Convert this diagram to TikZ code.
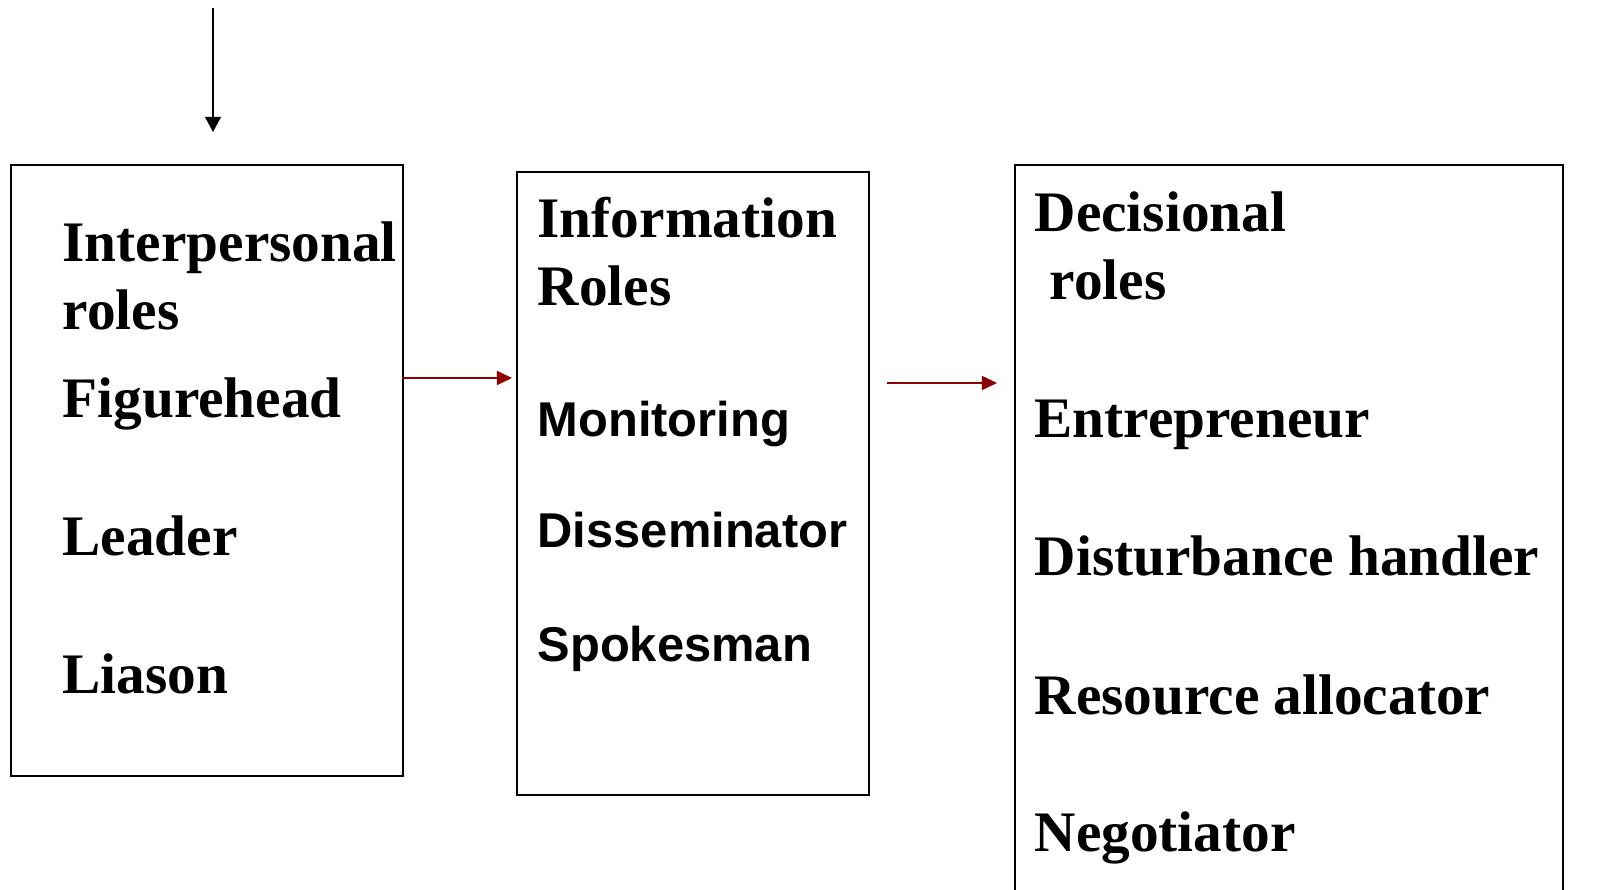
\documentclass[tikz,border=0pt]{standalone}
\usepackage{fontspec}
\setmainfont{Liberation Serif}
\newfontfamily\arialfont{Liberation Sans}
\usetikzlibrary{arrows.meta}

\definecolor{flowred}{RGB}{139,0,0}

\begin{document}
\begin{tikzpicture}[
	rolebox/.style={draw, line width=0.6pt, anchor=north west, inner sep=0pt},
	roletext/.style={anchor=base west, inner sep=0pt, font=\fontsize{16.3}{19}\selectfont\bfseries},
	infotext/.style={anchor=base west, inner sep=0pt, font=\fontsize{13.9}{17}\selectfont\arialfont\bfseries},
	roleflow/.style={draw=flowred, line width=0.45pt, -{Triangle[length=4.3pt, width=4pt]}, flowred}
]

\def\H{8.89}

% page
\useasboundingbox (0,0) rectangle (16,\H);
\clip (0,0) rectangle (16,\H);

% boxes
\node [rolebox, minimum width=3.92cm, minimum height=6.11cm] (inter) at (0.10,\H-1.64) {};
\node [rolebox, minimum width=3.52cm, minimum height=6.23cm] (info) at (5.16,\H-1.71) {};
\node [rolebox, minimum width=5.48cm, minimum height=7.6cm] (deci) at (10.14,\H-1.64) {};

% interpersonal roles
\node [roletext] (intertitle) at (0.62,\H-2.62) {Interpersonal};
\node [roletext] (interroles) at (0.62,\H-3.30) {roles};
\node [roletext] (figure) at (0.62,\H-4.18) {Figurehead};
\node [roletext] (leader) at (0.62,\H-5.55) {Leader};
\node [roletext] (liason) at (0.62,\H-6.93) {Liason};

% information roles
\node [roletext] (infotitle) at (5.37,\H-2.38) {Information};
\node [roletext] (inforoles) at (5.37,\H-3.06) {Roles};
\node [infotext] (monitor) at (5.37,\H-4.37) {Monitoring};
\node [infotext] (dissem) at (5.37,\H-5.48) {Disseminator};
\node [infotext] (spokes) at (5.37,\H-6.61) {Spokesman};

% decisional roles
\node [roletext] (decititle) at (10.34,\H-2.32) {Decisional};
\node [roletext] (deciroles) at (10.49,\H-3.00) {roles};
\node [roletext] (entre) at (10.34,\H-4.38) {Entrepreneur};
\node [roletext] (disturb) at (10.34,\H-5.76) {Disturbance handler};
\node [roletext] (resource) at (10.34,\H-7.14) {Resource allocator};
\node [roletext] (negot) at (10.34,\H-8.51) {Negotiator};

% arrows
\coordinate (topstart) at (2.13,\H-0.08);
\coordinate (topend) at (2.13,\H-1.32);
\draw [-{Triangle[length=4.3pt, width=4.5pt]}, line width=0.45pt] (topstart) -- (topend);

\coordinate (interout) at (4.02,\H-3.78);
\coordinate (infoin) at (5.12,\H-3.78);
\draw [roleflow] (interout) -- (infoin);

\coordinate (infoout) at (8.87,\H-3.83);
\coordinate (deciin) at (9.97,\H-3.83);
\draw [roleflow] (infoout) -- (deciin);

\end{tikzpicture}
\end{document}
